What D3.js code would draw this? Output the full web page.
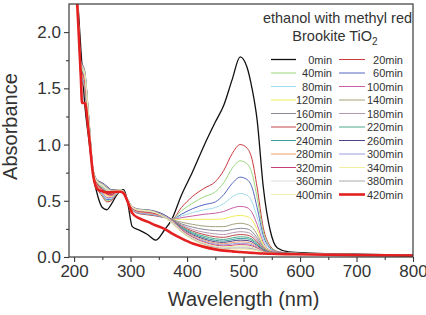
<!DOCTYPE html>
<html>
<head>
<meta charset="utf-8">
<script src="https://cdn.jsdelivr.net/npm/d3@7"></script>
<style>
  html, body { margin: 0; padding: 0; background: #fff; }
  svg { display: block; font-family: "Liberation Sans", Arial, sans-serif; }
</style>
</head>
<body>
<svg id="chart" width="426" height="315"></svg>
<script>
// ---------------- data ----------------
const wavelengths = [196, 205, 212, 214, 219, 226, 234, 242, 250, 258, 266, 274, 282, 288, 295, 303, 315, 330, 345, 360, 373, 390, 410, 430, 450, 465, 480, 494, 506, 515, 524, 535, 547, 560, 580, 620, 700, 800];

const timeLabels = ["0min","20min","40min","60min","80min","100min","120min","140min","160min","180min","200min","220min","240min","260min","280min","300min","320min","340min","360min","380min","400min","420min"];

const abs0min   = [3.2, 2.4, 1.85, 1.7, 1.35, 1.05, 0.72, 0.54, 0.44, 0.42, 0.47, 0.54, 0.59, 0.6, 0.48, 0.27, 0.24, 0.2, 0.15, 0.24, 0.335, 0.55, 0.76, 0.99, 1.2, 1.35, 1.58, 1.78, 1.69, 1.5, 1.22, 0.62, 0.24, 0.08, 0.045, 0.035, 0.025, 0.017];
const abs20min  = [3.2, 2.4, 1.6, 1.56, 1.48, 1.12, 0.72, 0.6, 0.54, 0.49, 0.5, 0.55, 0.58, 0.56, 0.49, 0.42, 0.385, 0.375, 0.365, 0.35, 0.335, 0.44, 0.54, 0.61, 0.67, 0.77, 0.92, 1.0, 0.97, 0.87, 0.62, 0.26, 0.1, 0.05, 0.035, 0.03, 0.022, 0.015];
const abs40min  = [3.2, 2.4, 1.61, 1.58, 1.5, 1.13, 0.72, 0.61, 0.55, 0.5, 0.51, 0.555, 0.58, 0.56, 0.49, 0.42, 0.39, 0.38, 0.37, 0.35, 0.335, 0.41, 0.48, 0.535, 0.58, 0.66, 0.79, 0.855, 0.83, 0.745, 0.53, 0.225, 0.09, 0.05, 0.035, 0.03, 0.022, 0.015];
const abs60min  = [3.2, 2.4, 1.62, 1.58, 1.51, 1.14, 0.73, 0.61, 0.56, 0.51, 0.515, 0.56, 0.58, 0.56, 0.49, 0.425, 0.39, 0.382, 0.37, 0.354, 0.335, 0.38, 0.43, 0.465, 0.49, 0.555, 0.655, 0.71, 0.69, 0.62, 0.44, 0.19, 0.08, 0.045, 0.035, 0.03, 0.022, 0.015];
const abs80min  = [3.2, 2.4, 1.63, 1.59, 1.51, 1.15, 0.73, 0.62, 0.56, 0.52, 0.52, 0.56, 0.584, 0.564, 0.494, 0.426, 0.393, 0.384, 0.373, 0.355, 0.335, 0.365, 0.395, 0.42, 0.44, 0.475, 0.535, 0.565, 0.55, 0.49, 0.355, 0.16, 0.07, 0.045, 0.035, 0.03, 0.022, 0.015];
const abs100min = [3.2, 2.4, 1.64, 1.61, 1.53, 1.16, 0.735, 0.625, 0.575, 0.53, 0.53, 0.565, 0.586, 0.566, 0.496, 0.429, 0.397, 0.389, 0.377, 0.358, 0.335, 0.35, 0.365, 0.38, 0.39, 0.405, 0.435, 0.45, 0.44, 0.395, 0.29, 0.13, 0.06, 0.045, 0.035, 0.03, 0.022, 0.015];
const abs120min = [3.2, 2.4, 1.66, 1.62, 1.55, 1.17, 0.74, 0.63, 0.59, 0.545, 0.54, 0.57, 0.588, 0.568, 0.498, 0.432, 0.401, 0.393, 0.381, 0.36, 0.335, 0.335, 0.335, 0.335, 0.335, 0.34, 0.36, 0.37, 0.36, 0.33, 0.245, 0.11, 0.055, 0.04, 0.034, 0.03, 0.022, 0.015];
const abs140min = [3.2, 2.4, 1.67, 1.64, 1.565, 1.185, 0.745, 0.64, 0.6, 0.56, 0.55, 0.575, 0.59, 0.57, 0.5, 0.435, 0.405, 0.398, 0.385, 0.363, 0.335, 0.31, 0.29, 0.275, 0.27, 0.27, 0.29, 0.3, 0.29, 0.265, 0.2, 0.095, 0.05, 0.04, 0.034, 0.03, 0.022, 0.015];
const abs160min = [3.2, 2.4, 1.73, 1.7, 1.63, 1.24, 0.765, 0.67, 0.65, 0.615, 0.59, 0.595, 0.598, 0.578, 0.508, 0.447, 0.421, 0.416, 0.401, 0.373, 0.335, 0.295, 0.265, 0.245, 0.235, 0.232, 0.245, 0.255, 0.25, 0.225, 0.17, 0.085, 0.048, 0.04, 0.034, 0.029, 0.021, 0.015];
const abs180min = [3.2, 2.4, 1.68, 1.66, 1.58, 1.2, 0.75, 0.65, 0.61, 0.575, 0.56, 0.58, 0.592, 0.572, 0.502, 0.438, 0.409, 0.402, 0.389, 0.365, 0.333, 0.285, 0.245, 0.22, 0.205, 0.2, 0.215, 0.225, 0.22, 0.2, 0.15, 0.078, 0.046, 0.04, 0.033, 0.029, 0.021, 0.015];
const abs200min = [3.2, 2.4, 1.68, 1.65, 1.57, 1.19, 0.75, 0.645, 0.605, 0.565, 0.555, 0.578, 0.591, 0.571, 0.501, 0.437, 0.407, 0.4, 0.387, 0.364, 0.332, 0.275, 0.23, 0.2, 0.18, 0.175, 0.19, 0.2, 0.195, 0.178, 0.135, 0.072, 0.044, 0.038, 0.033, 0.029, 0.021, 0.015];
const abs220min = [3.2, 2.4, 1.69, 1.66, 1.59, 1.205, 0.753, 0.652, 0.618, 0.58, 0.565, 0.583, 0.593, 0.573, 0.503, 0.44, 0.411, 0.404, 0.391, 0.366, 0.331, 0.268, 0.218, 0.185, 0.162, 0.156, 0.17, 0.18, 0.176, 0.16, 0.122, 0.066, 0.042, 0.037, 0.032, 0.028, 0.021, 0.014];
const abs240min = [3.2, 2.4, 1.7, 1.67, 1.6, 1.21, 0.755, 0.656, 0.624, 0.588, 0.57, 0.585, 0.594, 0.574, 0.504, 0.441, 0.413, 0.407, 0.393, 0.368, 0.33, 0.262, 0.208, 0.172, 0.148, 0.142, 0.155, 0.165, 0.162, 0.148, 0.112, 0.062, 0.04, 0.036, 0.032, 0.028, 0.02, 0.014];
const abs260min = [3.2, 2.4, 1.74, 1.72, 1.65, 1.25, 0.77, 0.68, 0.66, 0.63, 0.6, 0.6, 0.6, 0.58, 0.51, 0.45, 0.425, 0.42, 0.405, 0.375, 0.33, 0.255, 0.198, 0.16, 0.135, 0.13, 0.142, 0.15, 0.147, 0.134, 0.102, 0.058, 0.039, 0.035, 0.031, 0.028, 0.02, 0.014];
const abs280min = [3.2, 2.4, 1.66, 1.63, 1.56, 1.18, 0.743, 0.636, 0.594, 0.553, 0.545, 0.573, 0.589, 0.569, 0.499, 0.434, 0.403, 0.395, 0.383, 0.361, 0.328, 0.25, 0.19, 0.15, 0.124, 0.118, 0.128, 0.135, 0.132, 0.12, 0.093, 0.054, 0.038, 0.034, 0.031, 0.027, 0.02, 0.014];
const abs300min = [3.2, 2.4, 1.7, 1.68, 1.61, 1.22, 0.758, 0.66, 0.63, 0.595, 0.575, 0.588, 0.595, 0.575, 0.505, 0.443, 0.415, 0.409, 0.395, 0.369, 0.326, 0.245, 0.182, 0.14, 0.114, 0.108, 0.116, 0.122, 0.119, 0.108, 0.085, 0.05, 0.036, 0.033, 0.03, 0.027, 0.02, 0.014];
const abs320min = [3.2, 2.4, 1.67, 1.64, 1.565, 1.185, 0.745, 0.64, 0.6, 0.56, 0.55, 0.575, 0.59, 0.57, 0.5, 0.435, 0.405, 0.398, 0.385, 0.36, 0.322, 0.24, 0.175, 0.132, 0.105, 0.098, 0.104, 0.11, 0.107, 0.098, 0.078, 0.047, 0.035, 0.032, 0.03, 0.026, 0.019, 0.013];
const abs340min = [3.2, 2.4, 1.7, 1.67, 1.6, 1.21, 0.755, 0.656, 0.624, 0.588, 0.57, 0.585, 0.594, 0.574, 0.504, 0.441, 0.413, 0.407, 0.393, 0.362, 0.318, 0.235, 0.168, 0.125, 0.097, 0.09, 0.095, 0.1, 0.097, 0.089, 0.072, 0.045, 0.034, 0.031, 0.029, 0.026, 0.019, 0.013];
const abs360min = [3.2, 2.4, 1.71, 1.69, 1.62, 1.225, 0.76, 0.664, 0.636, 0.602, 0.58, 0.59, 0.596, 0.576, 0.506, 0.444, 0.417, 0.411, 0.395, 0.36, 0.312, 0.23, 0.162, 0.118, 0.09, 0.083, 0.086, 0.09, 0.088, 0.081, 0.066, 0.043, 0.033, 0.03, 0.028, 0.025, 0.019, 0.013];
const abs380min = [3.2, 2.4, 1.73, 1.71, 1.64, 1.245, 0.768, 0.676, 0.654, 0.623, 0.595, 0.598, 0.599, 0.579, 0.509, 0.449, 0.423, 0.418, 0.4, 0.358, 0.305, 0.225, 0.157, 0.112, 0.084, 0.076, 0.078, 0.08, 0.079, 0.073, 0.061, 0.041, 0.032, 0.03, 0.028, 0.025, 0.018, 0.013];
const abs400min = [3.2, 2.4, 1.72, 1.7, 1.63, 1.23, 0.763, 0.668, 0.642, 0.609, 0.585, 0.593, 0.597, 0.577, 0.507, 0.446, 0.419, 0.413, 0.393, 0.352, 0.298, 0.22, 0.152, 0.106, 0.078, 0.07, 0.07, 0.07, 0.069, 0.065, 0.056, 0.04, 0.031, 0.029, 0.027, 0.024, 0.018, 0.012];
const abs420min = [3.2, 2.3, 1.6, 1.37, 1.37, 1.1, 0.72, 0.6, 0.585, 0.575, 0.575, 0.58, 0.58, 0.565, 0.49, 0.39, 0.345, 0.315, 0.28, 0.25, 0.21, 0.165, 0.12, 0.09, 0.068, 0.057, 0.05, 0.045, 0.04, 0.037, 0.034, 0.031, 0.029, 0.027, 0.025, 0.022, 0.017, 0.012];

const seriesValues = [abs0min, abs20min, abs40min, abs60min, abs80min, abs100min, abs120min, abs140min, abs160min, abs180min, abs200min, abs220min, abs240min, abs260min, abs280min, abs300min, abs320min, abs340min, abs360min, abs380min, abs400min, abs420min];

const xTickValues = [200, 300, 400, 500, 600, 700, 800];
const yTickValues = [0.0, 0.5, 1.0, 1.5, 2.0];
const titleLine1 = "ethanol with methyl red";
const titleLine2 = "Brookite TiO";
const titleSub = "2";

// ---------------- styles ----------------
const colors = ["#111111","#c8383c","#9ad77c","#5466c0","#9fdcec","#c860a8","#f4ec5c","#a4a27c","#8c8898","#b498b4","#c04848","#4caa8c","#3c9c9c","#4c4488","#f0a070","#9c9ce0","#c83c78","#f2eea0","#dcdcdc","#aaaaaa","#f2eeac","#e42020"];
const widths = colors.map((c, i) => i === 21 ? 2.6 : (i === 0 ? 1.3 : 1.0));

// ---------------- layout ----------------
const svg = d3.select("#chart");
const L = 69, R = 413, T = 4, B = 257;
const x = d3.scaleLinear().domain([191, 800]).range([L, R]);
const y = d3.scaleLinear().domain([0, 2.25]).range([B, T]);
const axisColor = "#3a3a3a";
const textColor = "#333333";

svg.append("defs").append("clipPath").attr("id", "plotclip")
  .append("rect").attr("x", L).attr("y", T).attr("width", R - L).attr("height", B - T);

// curves
const line = d3.line().x((d, i) => x(wavelengths[i])).y(d => y(d)).curve(d3.curveMonotoneX);
const curves = svg.append("g").attr("clip-path", "url(#plotclip)");
seriesValues.forEach((vals, k) => {
  curves.append("path").attr("d", line(vals)).attr("fill", "none")
    .attr("stroke", colors[k]).attr("stroke-width", widths[k]).attr("stroke-linejoin", "round");
});

// axes
const xAxis = d3.axisBottom(x).tickValues(xTickValues).tickSize(5).tickPadding(3).tickFormat(d3.format("d"));
const xMinor = d3.axisBottom(x).tickValues([250, 350, 450, 550, 650, 750]).tickSize(3).tickFormat("");
const yAxis = d3.axisLeft(y).tickValues(yTickValues).tickSize(5).tickPadding(3).tickFormat(d3.format(".1f"));
const yMinor = d3.axisLeft(y).tickValues([0.25, 0.75, 1.25, 1.75]).tickSize(3).tickFormat("");

function styleAxis(g) {
  g.select(".domain").remove();
  g.selectAll("line").attr("stroke", axisColor).attr("stroke-width", 1.1);
  g.selectAll("text").attr("fill", textColor).style("font-size", "17px")
    .style("font-family", "'Liberation Sans', Arial, sans-serif");
}
svg.append("g").attr("transform", `translate(0,${B})`).call(xAxis).call(styleAxis);
svg.append("g").attr("transform", `translate(0,${B})`).call(xMinor).call(styleAxis);
svg.append("g").attr("transform", `translate(${L},0)`).call(yAxis).call(styleAxis);
svg.append("g").attr("transform", `translate(${L},0)`).call(yMinor).call(styleAxis);

// frame
svg.append("rect").attr("x", L).attr("y", T).attr("width", R - L).attr("height", B - T)
  .attr("fill", "none").attr("stroke", axisColor).attr("stroke-width", 1.2);

// axis titles
svg.append("text").attr("x", x(500)).attr("y", 306).attr("text-anchor", "middle")
  .attr("fill", textColor).style("font-size", "20px").text("Wavelength (nm)");
svg.append("text").attr("transform", `translate(17,${(T + B) / 2 - 4}) rotate(-90)`)
  .attr("text-anchor", "middle").attr("fill", textColor).style("font-size", "20px").text("Absorbance");

// legend title
svg.append("text").attr("x", 337.5).attr("y", 23).attr("text-anchor", "middle")
  .attr("fill", textColor).style("font-size", "14.5px").text(titleLine1);
const t2 = svg.append("text").attr("x", 335).attr("y", 41).attr("text-anchor", "middle")
  .attr("fill", textColor).style("font-size", "14.5px");
t2.append("tspan").text(titleLine2);
t2.append("tspan").attr("dy", 4).style("font-size", "10px").text(titleSub);

// legend entries
const rowY0 = 59.5, rowStep = 13.5;
const cols = [{x1: 271, x2: 296, tx: 332}, {x1: 339, x2: 365, tx: 403}];
timeLabels.forEach((lab, i) => {
  const c = cols[i % 2];
  const ry = rowY0 + Math.floor(i / 2) * rowStep;
  svg.append("line").attr("x1", c.x1).attr("x2", c.x2).attr("y1", ry).attr("y2", ry)
    .attr("stroke", colors[i]).attr("stroke-width", widths[i]);
  svg.append("text").attr("x", c.tx).attr("y", ry + 4).attr("text-anchor", "end")
    .attr("fill", textColor).style("font-size", "11px").text(lab);
});
</script>
</body>
</html>
